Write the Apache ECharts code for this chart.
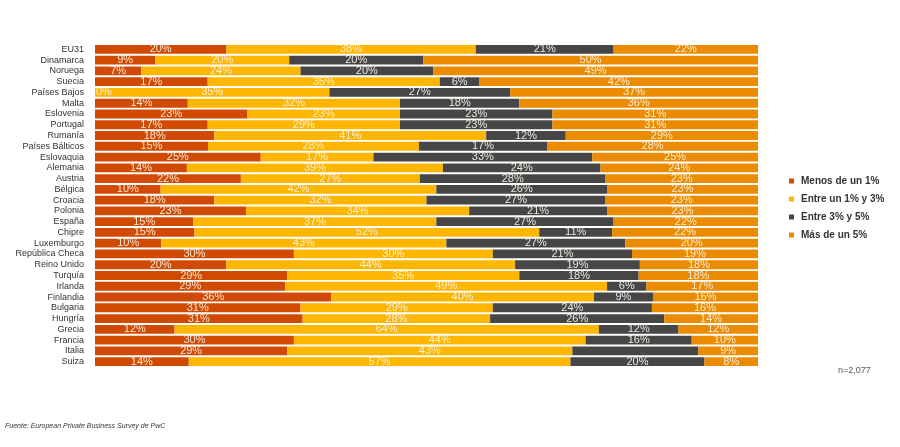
<!DOCTYPE html>
<html>
<head>
<meta charset="utf-8">
<script src="https://cdn.jsdelivr.net/npm/echarts@6/dist/echarts.min.js"></script>
<style>
html,body{margin:0;padding:0;background:#fff;}
#c{width:900px;height:447px;}
</style>
</head>
<body>
<div id="c"></div>
<script>
const categories = ['EU31','Dinamarca','Noruega','Suecia','Países Bajos','Malta','Eslovenia','Portugal','Rumanía','Países Bálticos','Eslovaquia','Alemania','Austria','Bélgica','Croacia','Polonia','España','Chipre','Luxemburgo','República Checa','Reino Unido','Turquía','Irlanda','Finlandia','Bulgaria','Hungría','Grecia','Francia','Italia','Suiza'];
const menos1 =   [20, 9, 7,17, 0,14,23,17,18,15,25,14,22,10,18,23,15,15,10,30,20,29,29,36,31,31,12,30,29,14];
const entre1y3 = [38,20,24,35,35,32,23,29,41,28,17,39,27,42,32,34,37,52,43,30,44,35,49,40,29,28,64,44,43,57];
const entre3y5 = [21,20,20, 6,27,18,23,23,12,17,33,24,28,26,27,21,27,11,27,21,19,18, 6, 9,24,26,12,16,19,20];
const mas5 =     [22,50,49,42,37,36,31,31,29,28,25,24,23,23,23,23,22,22,20,19,18,18,17,16,16,14,12,10, 9, 8];
const seriesNames = ['Menos de un 1%','Entre un 1% y 3%','Entre 3% y 5%','Más de un 5%'];
const hiddenLabels = [[], [], ['Italia'], []];

const colors = ['#D04A02','#FFB600','#464646','#EB8C00'];
const raw = [menos1, entre1y3, entre3y5, mas5];
const totals = categories.map((c,i)=>raw.reduce((s,a)=>s+a[i],0));

const series = raw.map((arr,si)=>({
  name: seriesNames[si],
  type: 'bar',
  stack: 'total',
  barCategoryGap: '18%',
  itemStyle: {color: colors[si]},
  label: {
    show: true,
    position: 'inside',
    color: 'rgba(250,244,232,0.92)',
    fontFamily: 'Liberation Sans, Arial, sans-serif',
    fontSize: 11,
    formatter: p => p.data.raw + '%'
  },
  data: arr.map((v,i)=>{
    const d = {value: v / totals[i] * 100, raw: v};
    if (hiddenLabels[si].includes(categories[i])) d.label = {show:false};
    if (v === 0) d.label = {show:true, position:'right', distance: 1};
    return d;
  })
}));

const chart = echarts.init(document.getElementById('c'), null, {renderer:'canvas'});
chart.setOption({
  animation: false,
  backgroundColor: '#ffffff',
  grid: {left: 95, top: 44, width: 663, height: 323, containLabel: false},
  xAxis: {type:'value', min:0, max:100, show:false},
  yAxis: {
    type:'category', data: categories, inverse: true,
    axisLine:{show:false}, axisTick:{show:false}, splitLine:{show:false},
    axisLabel:{interval:0, color:'#333', fontSize:9, fontFamily:'Liberation Sans, Arial, sans-serif', margin:11}
  },
  legend: {
    orient:'vertical', left: 784, top: 171,
    itemWidth:5, itemHeight:5, itemGap:8, icon:'rect',
    selectedMode:false,
    textStyle:{fontSize:10, fontWeight:'bold', color:'#333', fontFamily:'Liberation Sans, Arial, sans-serif', padding:[0,0,0,2]},
    data: seriesNames
  },
  graphic: [
    {type:'text', left: 838, top: 366, style:{text:'n=2,077', fontSize:9, fill:'#555', fontFamily:'Liberation Sans Narrow, Liberation Sans, Arial, sans-serif'}},
    {type:'text', left: 5, top: 423, style:{text:'Fuente: European Private Business Survey de PwC', fontSize:7, fontStyle:'italic', fill:'#333', fontFamily:'Liberation Sans, Arial, sans-serif'}}
  ],
  series: series
});
</script>
</body>
</html>
